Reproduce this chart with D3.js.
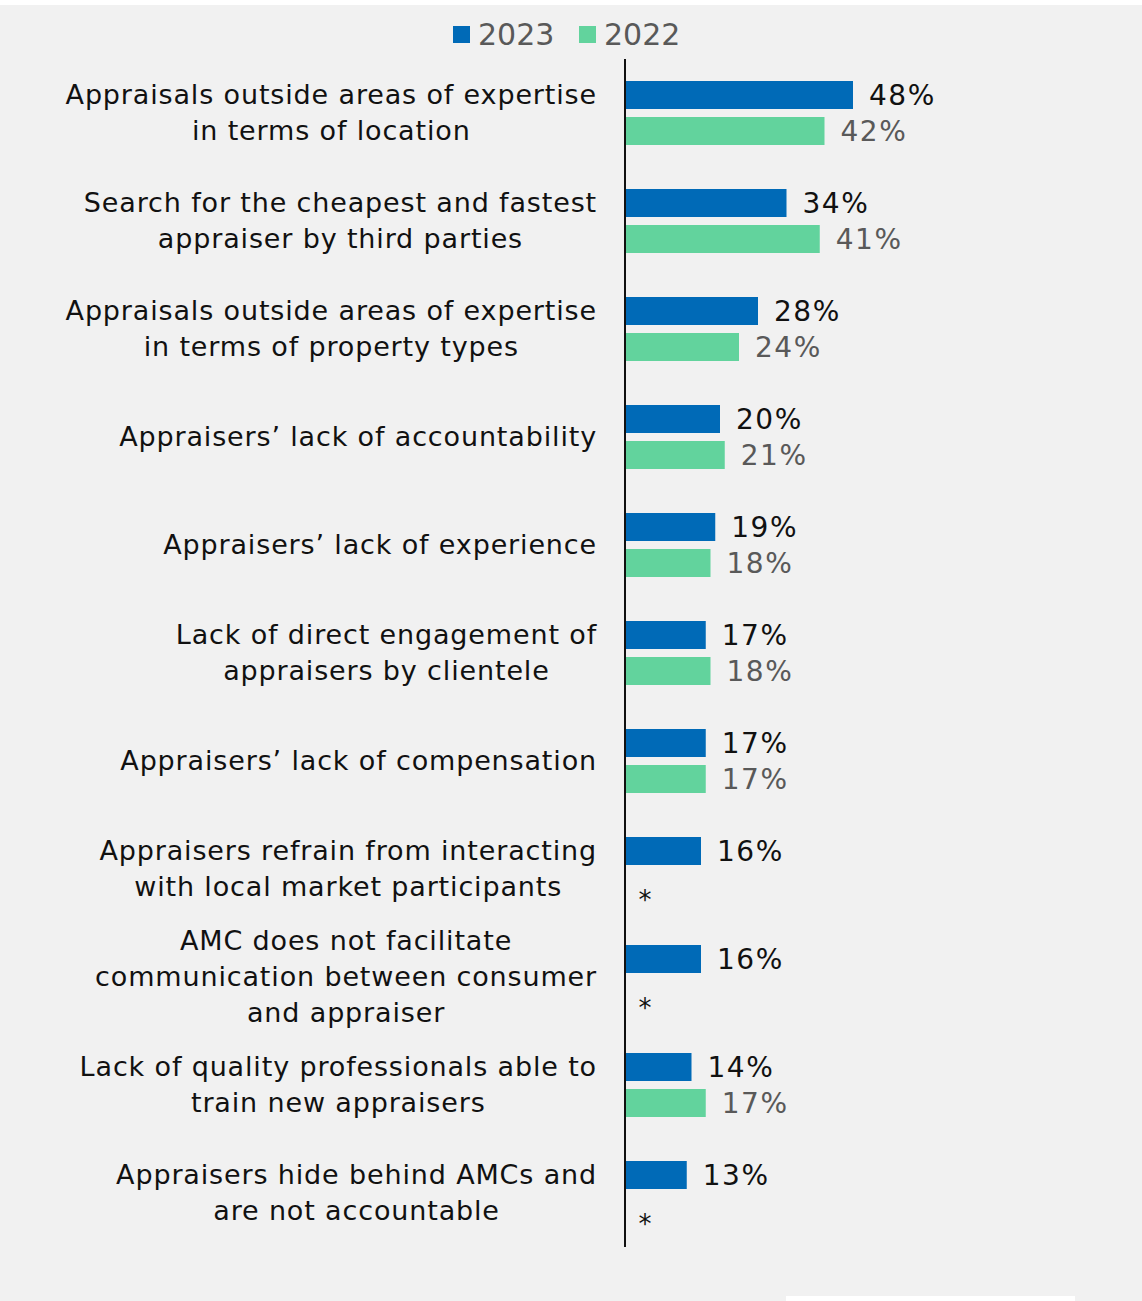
<!DOCTYPE html>
<html>
<head>
<meta charset="utf-8">
<script src="https://cdn.jsdelivr.net/npm/d3@7"></script>
<style>
  html, body { margin: 0; padding: 0; background: #ffffff; }
  svg { display: block; }
</style>
</head>
<body>
<script>
// Reasons cited, share of respondents by survey year
const categories = [
  ["Appraisals outside areas of expertise", "in terms of location"],
  ["Search for the cheapest and fastest", "appraiser by third parties"],
  ["Appraisals outside areas of expertise", "in terms of property types"],
  ["Appraisers\u2019 lack of accountability"],
  ["Appraisers\u2019 lack of experience"],
  ["Lack of direct engagement of", "appraisers by clientele"],
  ["Appraisers\u2019 lack of compensation"],
  ["Appraisers refrain from interacting", "with local market participants"],
  ["AMC does not facilitate", "communication between consumer", "and appraiser"],
  ["Lack of quality professionals able to", "train new appraisers"],
  ["Appraisers hide behind AMCs and", "are not accountable"]
];
const values2023 = [48, 34, 28, 20, 19, 17, 17, 16, 16, 14, 13];
// null = option not asked in 2022 (shown with an asterisk)
const values2022 = [42, 41, 24, 21, 18, 18, 17, null, null, 17, null];
const seriesNames = ["2023", "2022"];
const seriesColors = ["#006ab7", "#62d39d"];
const labelColors = ["#111111", "#595959"];

const W = 1142, H = 1301;
const FONT = "'DejaVu Sans', sans-serif";

const svg = d3.select("body").append("svg")
  .attr("width", W).attr("height", H);

// page background
svg.append("rect").attr("x", 0).attr("y", 5).attr("width", W).attr("height", H - 5)
  .attr("fill", "#f1f1f1");
svg.append("rect").attr("x", 786).attr("y", 1296).attr("width", 289).attr("height", 5)
  .attr("fill", "#ffffff");

const axisX = 625;
const x = d3.scaleLinear().domain([0, 100]).range([axisX, axisX + 475]);

const y0 = d3.scaleBand()
  .domain(d3.range(categories.length))
  .range([59, 1247])
  .paddingInner(0).paddingOuter(0);

const y1 = d3.scaleBand()
  .domain(seriesNames)
  .range([y0.bandwidth() / 2 - 36, y0.bandwidth() / 2 + 36])
  .paddingInner(8 / 36)
  .paddingOuter(4 / 36);

const rows = categories.map((c, i) => ({
  i, lines: c,
  vals: [values2023[i], values2022[i]]
}));

const g = svg.append("g");
const groups = g.selectAll("g.row").data(rows).join("g")
  .attr("class", "row")
  .attr("transform", d => `translate(0,${y0(d.i)})`);

// category labels: lines centred on each other, block right-aligned to the axis
const labelRight = 597;
groups.append("text")
  .attr("text-anchor", "middle")
  .attr("font-family", FONT)
  .attr("font-size", 27)
  .attr("letter-spacing", 0.85)
  .attr("fill", "#111111")
  .each(function(d) {
    const t = d3.select(this);
    const lh = 36;
    const n = d.lines.length;
    const spans = d.lines.map((ln, k) =>
      t.append("tspan")
        .attr("y", y0.bandwidth() / 2 + (k - (n - 1) / 2) * lh)
        .attr("dy", "0.35em")
        .text(ln));
    const maxW = d3.max(spans, s => s.node().getComputedTextLength());
    spans.forEach(s => s.attr("x", labelRight - maxW / 2));
  });

// bars
groups.each(function(d) {
  const gg = d3.select(this);
  seriesNames.forEach((s, k) => {
    const v = d.vals[k];
    const yy = y1(s);
    if (v == null) {
      gg.append("text")
        .attr("x", axisX + 20)
        .attr("y", yy + y1.bandwidth() / 2 + 22)
        .attr("text-anchor", "middle")
        .attr("font-family", FONT)
        .attr("font-size", 26)
        .attr("fill", "#111111")
        .text("*");
      return;
    }
    gg.append("rect")
      .attr("x", x(0))
      .attr("y", yy)
      .attr("width", x(v) - x(0))
      .attr("height", y1.bandwidth())
      .attr("fill", seriesColors[k]);
    gg.append("text")
      .attr("x", x(v) + 16)
      .attr("y", yy + y1.bandwidth() / 2)
      .attr("dy", "0.36em")
      .attr("font-family", FONT)
      .attr("font-size", 28)
      .attr("letter-spacing", 1.5)
      .attr("fill", labelColors[k])
      .text(v + "%");
  });
});

// vertical axis line
svg.append("line")
  .attr("x1", axisX).attr("x2", axisX)
  .attr("y1", 59).attr("y2", 1247)
  .attr("stroke", "#111111").attr("stroke-width", 2);

// legend
const legend = svg.append("g").attr("transform", "translate(453,26)");
const lx = [0, 126];
seriesNames.forEach((s, k) => {
  legend.append("rect").attr("x", lx[k]).attr("y", 0)
    .attr("width", 17).attr("height", 17).attr("fill", seriesColors[k]);
  legend.append("text").attr("x", lx[k] + 25).attr("y", 8.5)
    .attr("dy", "0.36em")
    .attr("font-family", FONT).attr("font-size", 30)
    .attr("fill", "#595959").text(s);
});
</script>
</body>
</html>
